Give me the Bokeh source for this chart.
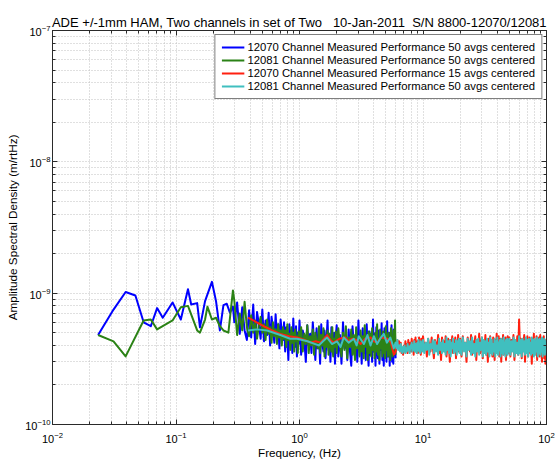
import math
from bokeh.plotting import figure
from bokeh.models import (Range1d, LogAxis, FixedTicker, Legend, LegendItem, Label,
                          CustomJSTickFormatter)
from bokeh.embed import file_html
from bokeh.resources import INLINE

TITLE = "ADE +/-1mm HAM, Two channels in set of Two\u00a0\u00a0 10-Jan-2011\u00a0 S/N 8800-12070/12081"
X_LABEL = "Frequency, (Hz)"
Y_LABEL = "Amplitude Spectral Density (m/rtHz)"
CREDIT = "created by ar066_gains_ade on 10-Jan-2011 , E. Allwine"
LABELS = [
    "12070 Channel Measured Performance 50 avgs centered",
    "12081 Channel Measured Performance 50 avgs centered",
    "12070 Channel Measured Performance 15 avgs centered",
    "12081 Channel Measured Performance 50 avgs centered",
]
COLORS = ["#0000ff", "#2b8216", "#ff2010", "#40bfbf"]

SCALE = 1e-11  # all ASD values below are in units of 1e-11 m/rtHz

# frequency bins (Hz) of the 50-average spectra between 0.31 and 6 Hz
f_mid = [k / 64 for k in range(20, 64)] + [k / 32 for k in range(32, 64)] + [k / 16 for k in range(32, 97)]
# frequency bins (Hz) of the high band, 6 to 100 Hz
f_hi = [k / 10 for k in range(60, 100)] + [k / 4 for k in range(40, 80)] + [k / 2 for k in range(40, 100)] + list(range(50, 101))

# --- 12070, 50 avgs (blue) ---
blue_f_low = [0.0234, 0.0312, 0.0391, 0.0469, 0.0547, 0.0625, 0.0703, 0.0781, 0.0938, 0.1094,
              0.1250, 0.1328, 0.1484, 0.1563, 0.1719, 0.1953, 0.2109, 0.2266, 0.2422, 0.2578,
              0.2734, 0.2891, 0.2969]
blue_v_low = [48, 75, 102, 96, 60, 56, 77, 65, 85, 63,
              107, 82, 84, 55, 87, 122, 87, 52, 81, 83,
              71, 79, 60]
blue_v_mid = [85, 49, 78, 52, 44, 74, 46, 82, 41, 72, 58, 45,
              75, 43, 62, 48, 71, 40, 66, 54, 42, 69, 47, 58, 38, 63, 50, 44,
              60, 36, 55, 47, 31, 58, 42, 52, 35, 64, 45, 39, 56, 33, 50, 41,
              62, 34, 52, 44, 30, 57, 40, 49, 35, 60, 43, 31, 54, 38, 47, 29,
              58, 41, 36, 52, 32, 46, 62, 37, 44, 30, 55, 40, 34, 50, 29, 47,
              57, 33, 48, 29, 60, 38, 45, 31, 53, 36, 28, 56, 41, 33, 50, 30,
              62, 37, 44, 29, 54, 35, 47, 31, 58, 39, 28, 51, 34, 45, 30, 63,
              36, 49, 28, 55, 40, 32, 52, 29, 46, 37, 59, 31, 43, 28, 54, 35,
              48, 30, 61, 38, 33, 50, 28, 45, 36, 57, 30, 42, 29, 53, 34, 47, 32]

# --- 12081, 50 avgs (green) ---
green_f_low = [0.0234, 0.0312, 0.0391, 0.0547, 0.0625, 0.0703, 0.0938, 0.1094, 0.1250, 0.1484,
               0.1563, 0.1719, 0.1797, 0.1953, 0.2109, 0.2266, 0.2422, 0.2656, 0.2891, 0.2969]
green_v_low = [48, 43, 33, 62, 63, 53, 62, 78, 80, 52,
               50, 63, 79, 63, 65, 56, 52, 50, 105, 87]
green_v_mid = [48, 70, 52, 86, 55, 47, 68, 50, 62, 45, 57, 66,
               50, 58, 44, 63, 49, 55, 42, 60, 47, 53, 41, 58, 46, 52, 40, 55,
               45, 52, 39, 58, 44, 49, 37, 55, 42, 50, 36, 53, 43, 47, 35, 51,
               44, 55, 36, 49, 41, 57, 35, 47, 40, 53, 34, 50, 42, 38, 56, 35,
               48, 40, 54, 33, 46, 39, 52, 34, 49, 41, 36, 55, 33, 45, 39, 51,
               35, 54, 40, 33, 50, 37, 56, 32, 46, 39, 53, 34, 48, 31, 55, 38,
               43, 33, 52, 36, 47, 32, 57, 39, 44, 31, 51, 35, 49, 33, 54, 37,
               42, 32, 50, 36, 58, 34, 45, 31, 53, 38, 47, 33, 51, 35, 44, 32,
               56, 37, 48, 33, 50, 34, 43, 31, 54, 36, 46, 33, 52, 35, 40, 62, 34]

# --- 12070, 15 avgs (red) ---
red_f_low = [0.383, 0.45, 0.514, 0.60, 0.70, 0.82, 0.957, 1.10, 1.23, 1.35,
             1.48, 1.58, 1.67, 1.78, 1.89, 2.10, 2.35, 2.50, 2.66, 2.90,
             3.12, 3.40, 3.76, 4.00, 4.25, 4.60, 5.13, 5.50, 5.81]
red_v_low = [65, 60, 56, 52, 49, 47, 46, 44, 42, 43,
             42, 45, 48, 44, 42, 45, 46, 43, 45, 44,
             41, 45, 46, 43, 42, 46, 45, 42, 34]
red_v_hi = [36, 41, 44, 39, 43, 37, 42, 35, 38, 34, 40, 36, 43, 38, 41, 35, 44, 39, 37, 42,
            36, 45, 39, 41, 34, 44, 38, 46, 36, 40, 43, 35, 41, 46, 38, 42, 34, 45, 39, 37,
            47, 38, 42, 33, 45, 40, 36, 46, 39, 32, 44, 41, 37, 48, 35, 42, 31, 46, 39, 43,
            36, 47, 33, 41, 45, 38, 30, 44, 40, 47, 35, 42, 38, 46, 32, 43, 39, 48, 36, 41,
            45, 33, 47, 38, 42, 30, 46, 40, 36, 48, 34, 43, 39, 47, 31, 44, 37, 49, 35, 41,
            46, 32, 43, 38, 48, 34, 42, 30, 45, 39, 47, 36, 41, 33, 46, 40, 31, 44, 38, 49,
            35, 42, 47, 33, 40, 45, 30, 43, 37, 48, 34, 44, 39, 46, 31, 42, 38, 47, 35, 43,
            46, 33, 44, 39, 48, 31, 42, 37, 47, 34, 63, 38, 45, 32, 43, 40, 48, 30, 44, 36,
            47, 33, 41, 46, 35, 43, 29, 45, 38, 49, 34, 42, 37, 47, 31, 44, 40, 46, 33, 48,
            36, 43, 30, 45, 39, 47, 32, 44, 29, 41, 38]

# --- 12081, 50 avgs (cyan) ---
cyan_f_low = [0.383, 0.452, 0.547, 0.70, 0.84, 0.957, 1.16, 1.43, 1.55, 1.67,
              1.83, 2.01, 2.15, 2.28, 2.5, 2.75, 2.9, 3.02, 3.32, 3.55,
              3.76, 4.0, 4.25, 4.5, 4.81, 5.1, 5.44, 5.8]
cyan_v_low = [52, 53, 52, 48, 45, 45, 43, 40, 43, 46,
              41, 43, 39, 46, 42, 45, 40, 47, 41, 48,
              40, 47, 41, 45, 49, 42, 46, 38]
cyan_v_hi = [42, 38, 44, 37, 40, 36, 41, 37, 35, 39, 36, 40, 35, 38, 36, 41, 37, 39, 35, 40,
             38, 42, 36, 40, 37, 43, 36, 41, 38, 35, 42, 37, 44, 36, 40, 35, 43, 38, 41, 36,
             44, 35, 42, 37, 45, 34, 41, 38, 44, 35, 43, 36, 40, 34, 45, 37, 42, 35, 44, 36,
             41, 34, 46, 37, 43, 35, 44, 33, 42, 38, 45, 35, 41, 36, 44, 34, 43, 37, 45, 35,
             44, 34, 46, 36, 42, 33, 45, 37, 43, 34, 46, 35, 41, 33, 44, 36, 45, 34, 42, 37,
             46, 33, 44, 35, 43, 34, 45, 36, 42, 33, 46, 35, 44, 34, 41, 36, 45, 33, 43, 35,
             46, 34, 42, 37, 44, 33, 45, 35, 43, 34, 46, 36, 42, 33, 44, 35, 45, 34, 43, 36,
             45, 34, 43, 36, 46, 33, 44, 35, 42, 34, 47, 35, 44, 33, 45, 36, 43, 34, 46, 35,
             44, 33, 45, 36, 42, 34, 46, 35, 44, 33, 45, 34, 43, 36, 46, 33, 44, 35, 45, 34,
             43, 36, 46, 33, 44, 35, 45, 34, 42, 36, 44]

x_major = [1e-2, 1e-1, 1e0, 1e1, 1e2]
y_major = [1e-10, 1e-9, 1e-8, 1e-7]
x_minor = [k * 10.0 ** e for e in range(-2, 2) for k in range(2, 10)]
y_minor = [k * 10.0 ** e for e in range(-10, -7) for k in range(2, 10)]


def series(f_a, v_a, f_b, v_b):
    pts = list(zip(f_a, v_a)) + list(zip(f_b, v_b))
    return [p[0] for p in pts], [p[1] * SCALE for p in pts]


FONT = "Liberation Sans"
AX = "#2a2a2a"

p = figure(width=558, height=461, x_axis_type="log", y_axis_type="log",
           x_range=Range1d(1e-2, 1e2), y_range=Range1d(1e-10, 1e-7),
           output_backend="svg", toolbar_location=None,
           min_border_left=52, min_border_right=12, min_border_top=30, min_border_bottom=33)
p.background_fill_color = "white"
p.border_fill_color = "white"
p.outline_line_color = AX

p.title.text = TITLE
p.title.text_font = FONT
p.title.text_font_size = "13px"
p.title.text_font_style = "normal"
p.title.text_color = "black"
p.title.align = "center"
p.title.offset = -3
p.title.standoff = 2

xt = FixedTicker(ticks=x_major, minor_ticks=x_minor)
yt = FixedTicker(ticks=y_major, minor_ticks=y_minor)

p.xaxis.axis_label = X_LABEL
p.yaxis.axis_label = Y_LABEL


def style_axis(ax, ticker):
    ax.ticker = ticker
    ax.axis_line_color = AX
    ax.major_tick_line_color = AX
    ax.minor_tick_line_color = AX
    ax.major_tick_in = 5
    ax.major_tick_out = 0
    ax.minor_tick_in = 3
    ax.minor_tick_out = 0
    ax.major_label_text_font = FONT
    ax.major_label_text_font_size = "11px"
    ax.major_label_text_color = "black"
    ax.major_label_standoff = 2
    ax.axis_label_text_font = FONT
    ax.axis_label_text_font_size = "11.7px"
    ax.axis_label_text_font_style = "normal"
    ax.axis_label_text_color = "black"
    ax.axis_label_standoff = 3


style_axis(p.xaxis[0], xt)
style_axis(p.yaxis[0], yt)
p.xaxis.major_label_standoff = 7
p.xaxis.axis_label_standoff = 0

top_ax = LogAxis()
right_ax = LogAxis()
for ax, t in ((top_ax, xt), (right_ax, yt)):
    style_axis(ax, t)
    ax.formatter = CustomJSTickFormatter(code="return ''")
    ax.major_label_text_font_size = "0px"
    ax.major_label_standoff = 0
p.add_layout(top_ax, "above")
p.add_layout(right_ax, "right")

for g, t in ((p.xgrid[0], xt), (p.ygrid[0], yt)):
    g.ticker = t
    g.grid_line_color = "#c0c0c0"
    g.grid_line_dash = "1 2"
    g.grid_line_width = 1
    g.minor_grid_line_color = "#c0c0c0"
    g.minor_grid_line_dash = "1 2"
    g.minor_grid_line_width = 1

bf, bv = series(blue_f_low, blue_v_low, f_mid, blue_v_mid)
gf, gv = series(green_f_low, green_v_low, f_mid, green_v_mid)
rf, rv = series(red_f_low, red_v_low, f_hi, red_v_hi)
cf, cv = series(cyan_f_low, cyan_v_low, f_hi, cyan_v_hi)

renderers = []
for (xs, ys), col in zip([(bf, bv), (gf, gv), (rf, rv), (cf, cv)], COLORS):
    renderers.append(p.line(xs, ys, line_color=col, line_width=2, line_join="round"))

legend = Legend(items=[LegendItem(label=lab, renderers=[r]) for lab, r in zip(LABELS, renderers)],
                location="top_right", margin=4, padding=6, spacing=1,
                glyph_width=23, glyph_height=12, label_height=12, label_standoff=3,
                label_text_font=FONT, label_text_font_size="11.3px", label_text_color="black",
                border_line_color="#000000", border_line_width=1,
                background_fill_color="white", background_fill_alpha=1.0)
p.add_layout(legend)

credit = Label(x=499, y=77, x_units="screen", y_units="screen", text=CREDIT, angle=math.pi / 2,
               text_font=FONT, text_font_size="5px", text_color="#444444",
               text_align="center", text_baseline="middle")
p.add_layout(credit)

open("out.html", "w").write(file_html(p, INLINE))
